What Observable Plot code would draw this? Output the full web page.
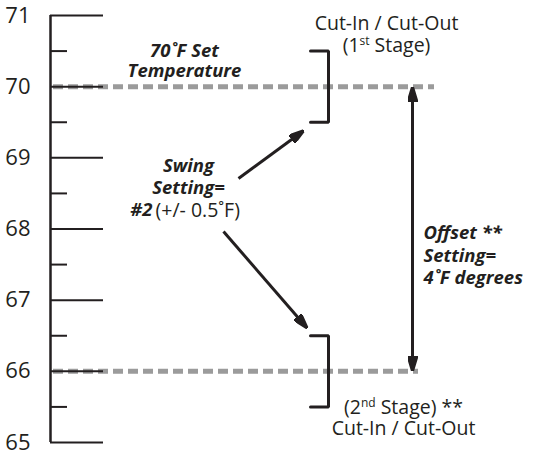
<!DOCTYPE html>
<html><head><meta charset="utf-8">
<script src="https://cdn.jsdelivr.net/npm/d3@7"></script>
<script src="https://cdn.jsdelivr.net/npm/@observablehq/plot@0.6"></script>
<style>body{margin:0;background:#fff}</style>
</head><body><div id="chart"></div>
<script>
// ---- data ----
const majorTicks = [65, 66, 67, 68, 69, 70, 71];
const minorTicks = [65.5, 66.5, 67.5, 68.5, 69.5, 70.5];
const setTemp = 70;       // 1st stage set point
const stage2Temp = 66;    // 2nd stage set point
const swing = 0.5;        // +/- swing
const offset = 4;         // offset degrees

const dashedLines = [
  {y: setTemp, x1: 3, x2: 384},
  {y: stage2Temp, x1: 3, x2: 368}
];
const brackets = [setTemp, stage2Temp];
const swingArrows = [
  {x1: 188, y1: 68.71, x2: 250, y2: 69.35},
  {x1: 173, y1: 67.965, x2: 254, y2: 66.65}
];
const offsetArrow = [{x: 362, y1: stage2Temp + 0.06, y2: setTemp - 0.06}];

const INK = "#231f20";
const GRAY = "#9b9b9b";

function filledArrow(color, context) {
  const doc = context.document;
  const ns = "http://www.w3.org/2000/svg";
  const m = doc.createElementNS(ns, "marker");
  m.setAttribute("viewBox", "-11 -5 15 10");
  m.setAttribute("markerWidth", 15);
  m.setAttribute("markerHeight", 10);
  m.setAttribute("markerUnits", "userSpaceOnUse");
  m.setAttribute("orient", "auto-start-reverse");
  m.setAttribute("refX", 0);
  m.setAttribute("refY", 0);
  const p = doc.createElementNS(ns, "path");
  p.setAttribute("d", "M-11,-4.5L4,0L-11,4.5Z");
  p.setAttribute("fill", color);
  m.appendChild(p);
  return m;
}

const bracketPts = brackets.flatMap((c, i) => [
  {g: i, x: 260, y: c + swing},
  {g: i, x: 278, y: c + swing},
  {g: i, x: 278, y: c - swing},
  {g: i, x: 260, y: c - swing}
]);

const boldItalic = {fontWeight: "bold", fontStyle: "italic", fontSize: 18.5, fill: INK};
const regular = {fontSize: 19.5, fill: INK};

const chart = Plot.plot({
  width: 535,
  height: 452,
  marginLeft: 50,
  marginRight: 0,
  marginTop: 15,
  marginBottom: 10,
  style: {fontFamily: "'Open Sans', sans-serif", color: INK, background: "#fff"},
  x: {domain: [0, 485], axis: null},
  y: {domain: [65, 71], axis: null},
  marks: [
    Plot.ruleY(dashedLines, {y: "y", x1: "x1", x2: "x2", stroke: GRAY, strokeWidth: 5, strokeDasharray: "10,5"}),
    Plot.ruleX([0], {y1: 65, y2: 71, stroke: INK, strokeWidth: 2.5}),
    Plot.ruleY(majorTicks, {x1: 0, x2: 53, stroke: INK, strokeWidth: 2}),
    Plot.ruleY(minorTicks, {x1: 0, x2: 17, stroke: INK, strokeWidth: 2}),
    Plot.axisY(majorTicks, {anchor: "left", tickSize: 0, tickPadding: 20, tickFormat: "d", fontSize: 22, label: null, fill: INK}),
    Plot.line(bracketPts, {x: "x", y: "y", z: "g", stroke: INK, strokeWidth: 3, strokeLinejoin: "miter"}),
    Plot.link(swingArrows, {x1: "x1", y1: "y1", x2: "x2", y2: "y2", stroke: INK, strokeWidth: 3, markerEnd: filledArrow}),
    Plot.link(offsetArrow, {x1: "x", x2: "x", y1: "y1", y2: "y2", stroke: INK, strokeWidth: 3, markerStart: filledArrow, markerEnd: filledArrow}),
    Plot.text([`70˚F Set\nTemperature`], {x: 134, y: 70.37, text: d => d, lineHeight: 1.08, ...boldItalic}),
    Plot.text([`Swing\nSetting=`], {x: 138, y: 68.74, text: d => d, lineHeight: 1.19, ...boldItalic}),
    Plot.text([`#2`], {x: 102, y: 68.26, text: d => d, textAnchor: "end", ...boldItalic}),
    Plot.text([`(+/- 0.5˚F)`], {x: 105, y: 68.26, text: d => d, textAnchor: "start", ...regular}),
    Plot.text([`Offset **\nSetting=\n${offset}˚F degrees`], {x: 373, y: 67.64, text: d => d, textAnchor: "start", lineHeight: 1.22, ...boldItalic}),
    Plot.text([`Cut-In / Cut-Out`], {x: 336, y: 70.89, text: d => d, ...regular}),
    Plot.text([`(1st Stage)`], {x: 336, y: 70.58, text: d => d, ...regular}),
    Plot.text([`(2nd Stage) **`], {x: 353, y: 65.49, text: d => d, ...regular}),
    Plot.text([`Cut-In / Cut-Out`], {x: 353, y: 65.20, text: d => d, ...regular})
  ]
});

// superscripts for ordinal suffixes
d3.select(chart).selectAll("text").each(function () {
  const t = this.textContent;
  const m = /^\((\d)(st|nd)( Stage\).*)$/.exec(t);
  if (!m) return;
  const sel = d3.select(this);
  sel.text(null);
  sel.append("tspan").text("(" + m[1]);
  sel.append("tspan").attr("font-size", 12).attr("dy", -7).text(m[2]);
  sel.append("tspan").attr("dy", 7).text(m[3]);
});

document.getElementById("chart").appendChild(chart);
</script>
</body></html>
